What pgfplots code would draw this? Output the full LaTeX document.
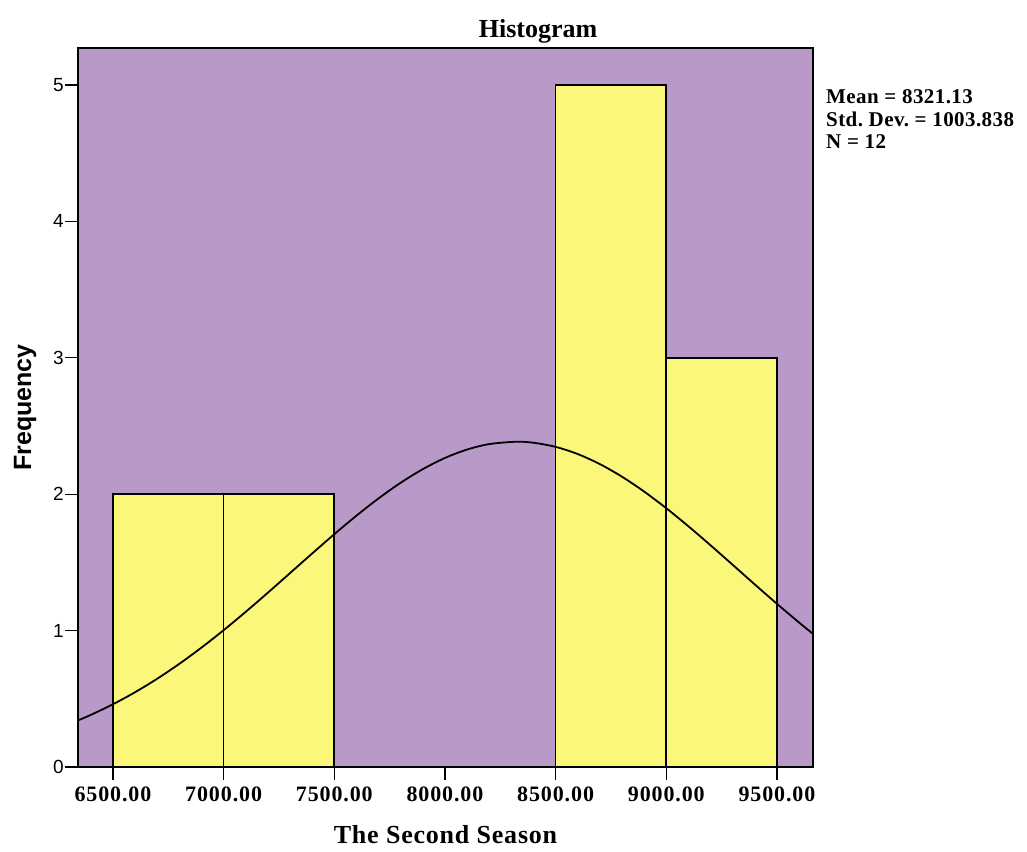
\documentclass[border=0pt]{standalone}
\usepackage{fontspec}
\setmainfont{Liberation Serif}
\newfontfamily\arialfont{Liberation Sans}
\usepackage{pgfplots}
\pgfplotsset{compat=1.18}
\definecolor{purp}{RGB}{184,153,200}
\definecolor{yel}{RGB}{250,247,122}
\begin{document}
\begin{tikzpicture}
\path[use as bounding box] (0,0) rectangle (1027pt,851pt);
\begin{axis}[
  at={(78pt,84pt)}, anchor=south west,
  scale only axis, width=735pt, height=719pt,
  xmin=6342, xmax=9663, ymin=0, ymax=5.271,
  axis background/.style={fill=purp},
  axis line style={black, line width=1.6pt},
  xtick={6500,7000,7500,8000,8500,9000,9500},
  ytick={0,1,2,3,4,5},
  xtick pos=left, ytick pos=left,
  tick align=outside,
  major tick length=13pt,
  major tick style={black, line width=1.3pt},
  /pgf/number format/assume math mode=true,
  xticklabel style={font=\fontsize{22}{24}\selectfont\bfseries\addfontfeature{LetterSpace=4}, inner sep=2pt, yshift=-5pt, /pgf/number format/.cd, fixed, fixed zerofill, precision=2, 1000 sep={}},
  yticklabel style={font=\arialfont\fontsize{19}{21}\selectfont, inner sep=1pt},
  xlabel={The Second Season},
  xlabel style={at={(axis description cs:0.5,-0.0946)}, anchor=center, font=\fontsize{26}{28}\selectfont\bfseries\addfontfeature{LetterSpace=3}},
  ylabel={Frequency},
  ylabel style={at={(axis description cs:-0.0721,0.5)}, anchor=center, rotate=0, font=\arialfont\fontsize{25}{27}\selectfont\bfseries},
  title={Histogram},
  title style={at={(axis description cs:0.626,1.015)}, anchor=center, font=\fontsize{26}{28}\selectfont\bfseries},
  clip mode=individual,
]
\addplot[ybar interval, fill=yel, draw=black, line width=1.6pt] coordinates {
  (6500,2) (7000,2) (7500,0) (8000,0) (8500,5) (9000,3) (9500,3)
};
\addplot[black, line width=1.8pt, smooth, no marks] coordinates {
(6342,0.3415) (6400,0.3821) (6500,0.4600) (6600,0.5483) (6700,0.6472)
(6800,0.7565) (6900,0.8754) (7000,1.0030) (7100,1.1378) (7200,1.2780)
(7300,1.4214) (7400,1.5652) (7500,1.7065) (7600,1.8422) (7700,1.9691)
(7800,2.0839) (7900,2.1836) (8000,2.2656) (8100,2.3273) (8200,2.3672)
(8321.13,2.3845) (8400,2.3772) (8500,2.3469) (8600,2.2942) (8700,2.2206)
(8800,2.1280) (8900,2.0192) (9000,1.8971) (9100,1.7647) (9200,1.6254)
(9300,1.4823) (9400,1.3383) (9500,1.1965) (9600,1.0592) (9663,0.9759)
};
\node[anchor=north west, align=left, inner sep=0pt, font=\fontsize{21}{22.5}\selectfont\bfseries\addfontfeature{LetterSpace=2}]
  at (axis description cs:1.0177,0.942) {Mean = 8321.13\\Std.\ Dev.\ = 1003.838\\N = 12};
\end{axis}
\end{tikzpicture}
\end{document}
